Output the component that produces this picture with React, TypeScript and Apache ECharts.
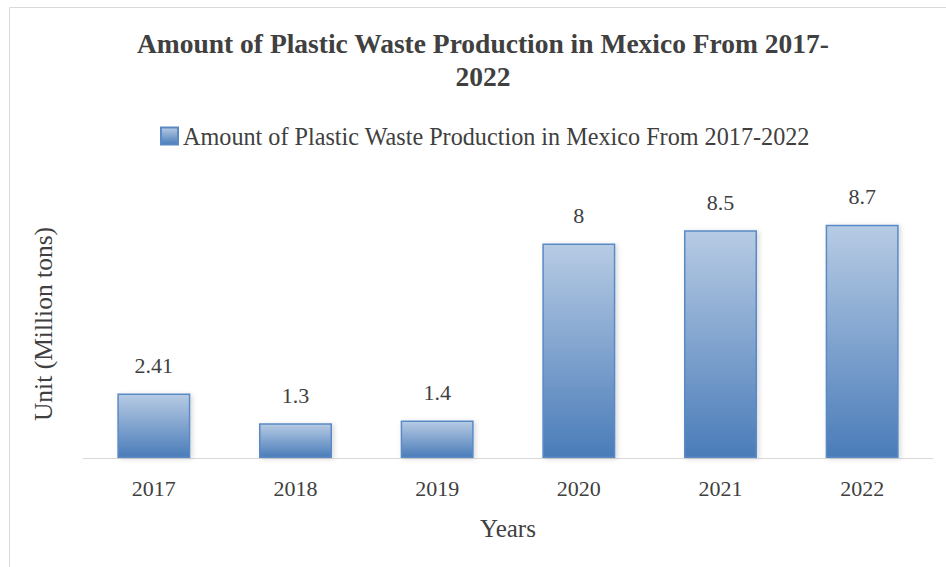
import React, { useEffect, useRef } from "react";
import * as echarts from "echarts";

const categories = ["2017", "2018", "2019", "2020", "2021", "2022"];
const values = [2.41, 1.3, 1.4, 8, 8.5, 8.7];
const titleText = "Amount of Plastic Waste Production in Mexico From 2017-\n2022";
const seriesName = "Amount of Plastic Waste Production in Mexico From 2017-2022";
const xName = "Years";
const yName = "Unit (Million tons)";

const FONT = "Liberation Serif";
const TEXT = "#404040";

export default function App() {
  const ref = useRef<HTMLDivElement>(null);
  useEffect(() => {
    if (!ref.current) return;
    const chart = echarts.init(ref.current, undefined, { renderer: "svg" });
    const barGradient = () =>
      new echarts.graphic.LinearGradient(0, 0, 0, 1, [
        { offset: 0, color: "#b7cbe4" },
        { offset: 1, color: "#4a7cb9" },
      ]);
    chart.setOption({
      animation: false,
      backgroundColor: "#ffffff",
      textStyle: { fontFamily: FONT },
      graphic: [
        {
          type: "rect",
          shape: { x: 9.5, y: 7.5, width: 1000, height: 700 },
          style: { fill: "none", stroke: "#d9d9d9", lineWidth: 1 },
          silent: true,
        },
        {
          type: "text",
          x: 483,
          y: 27,
          style: {
            text: titleText,
            textAlign: "center",
            textVerticalAlign: "top",
            font: `bold 27.5px ${FONT}`,
            lineHeight: 33,
            fill: TEXT,
          },
        },
      ],
      legend: {
        left: 155,
        top: 119,
        icon: "rect",
        itemWidth: 17,
        itemHeight: 17,
        itemGap: 6,
        textStyle: { fontFamily: FONT, fontSize: 24.2, color: TEXT },
        data: [seriesName],
      },
      grid: { left: 83, right: 13, top: 190, bottom: 109, containLabel: false },
      xAxis: {
        type: "category",
        data: categories,
        axisLine: { show: true, lineStyle: { color: "#d9d9d9", width: 1 } },
        axisTick: { show: false },
        axisLabel: { fontFamily: FONT, fontSize: 22, color: TEXT, margin: 19 },
        name: xName,
        nameLocation: "middle",
        nameGap: 58,
        nameTextStyle: { fontFamily: FONT, fontSize: 25, color: TEXT },
      },
      yAxis: {
        type: "value",
        min: 0,
        max: 10,
        axisLine: { show: false },
        axisTick: { show: false },
        axisLabel: { show: false },
        splitLine: { show: false },
        name: yName,
        nameLocation: "middle",
        nameGap: 27,
        nameTextStyle: { fontFamily: FONT, fontSize: 25.5, color: TEXT },
      },
      series: [
        {
          name: seriesName,
          type: "bar",
          data: values,
          barWidth: 73,
          itemStyle: {
            color: barGradient(),
            borderColor: "#5a8ac6",
            borderWidth: 1.5,
            shadowBlur: 5,
            shadowColor: "rgba(0,0,0,0.15)",
            shadowOffsetX: 2,
            shadowOffsetY: 1,
          },
          label: {
            show: true,
            position: "top",
            distance: 17,
            fontFamily: FONT,
            fontSize: 22,
            color: TEXT,
          },
        },
      ],
    });
    return () => chart.dispose();
  }, []);
  return (
    <div
      ref={ref}
      style={{ position: "absolute", left: 0, top: 0, width: 946, height: 567 }}
    />
  );
}
